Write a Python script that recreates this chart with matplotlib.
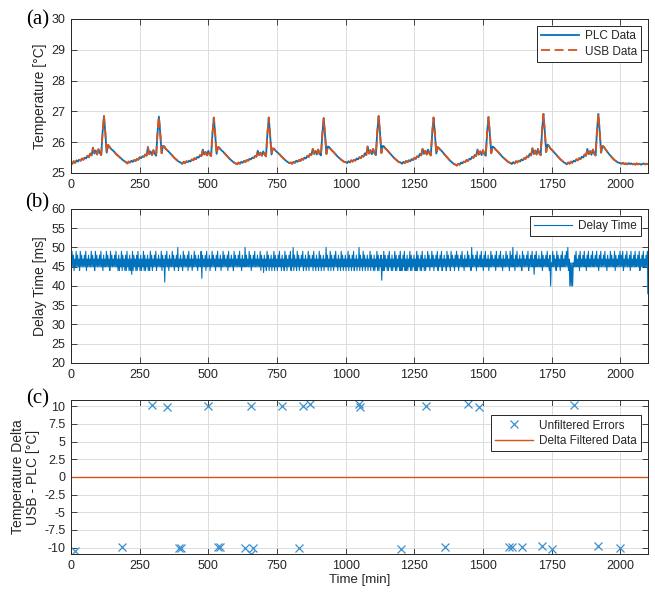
import numpy as np
import matplotlib
matplotlib.use("Agg")
import matplotlib.pyplot as plt

plt.rcParams['font.family'] = ['Liberation Sans', 'DejaVu Sans']
plt.rcParams['axes.unicode_minus'] = False
plt.rcParams['path.simplify'] = False

# ---------------- data ----------------
# PLC temperature, sampled every 5 min from 0 to 2100 min
plc_temp = [
    25.36, 25.30, 25.38, 25.33, 25.41, 25.37, 25.43, 25.40, 25.47, 25.43, 25.50, 25.47, 25.56, 25.51, 25.63, 25.57, 25.82, 25.63, 25.73, 25.60,
    25.77, 25.65, 25.58, 26.32, 26.85, 26.30, 25.66, 25.91, 25.85, 25.79, 25.75, 25.71, 25.66, 25.61, 25.57, 25.53, 25.49, 25.45, 25.41, 25.38,
    25.35, 25.31, 25.37, 25.34, 25.40, 25.36, 25.42, 25.39, 25.45, 25.43, 25.51, 25.48, 25.54, 25.52, 25.60, 25.56, 25.84, 25.61, 25.70, 25.58,
    25.74, 25.62, 25.56, 26.30, 26.83, 26.28, 25.64, 25.88, 25.86, 25.78, 25.74, 25.70, 25.65, 25.60, 25.55, 25.50, 25.46, 25.42, 25.38, 25.36,
    25.33, 25.30, 25.36, 25.32, 25.38, 25.35, 25.40, 25.37, 25.44, 25.41, 25.48, 25.45, 25.52, 25.50, 25.58, 25.55, 25.76, 25.60, 25.68, 25.57,
    25.72, 25.60, 25.55, 26.28, 26.80, 26.25, 25.62, 25.84, 25.82, 25.76, 25.72, 25.68, 25.63, 25.58, 25.53, 25.48, 25.44, 25.40, 25.36, 25.33,
    25.31, 25.28, 25.34, 25.30, 25.36, 25.33, 25.39, 25.36, 25.42, 25.40, 25.46, 25.44, 25.50, 25.48, 25.55, 25.53, 25.72, 25.58, 25.66, 25.56,
    25.70, 25.60, 25.54, 26.26, 26.80, 26.22, 25.60, 25.80, 25.78, 25.72, 25.68, 25.64, 25.60, 25.55, 25.50, 25.46, 25.42, 25.38, 25.35, 25.32,
    25.34, 25.30, 25.36, 25.33, 25.40, 25.36, 25.42, 25.39, 25.46, 25.43, 25.50, 25.47, 25.55, 25.52, 25.62, 25.58, 25.78, 25.62, 25.72, 25.60,
    25.76, 25.62, 25.57, 26.25, 26.78, 26.22, 25.62, 25.86, 25.84, 25.78, 25.73, 25.69, 25.64, 25.59, 25.54, 25.50, 25.46, 25.42, 25.39, 25.36,
    25.36, 25.32, 25.38, 25.34, 25.41, 25.37, 25.43, 25.40, 25.47, 25.44, 25.51, 25.48, 25.56, 25.53, 25.64, 25.58, 25.86, 25.63, 25.74, 25.61,
    25.78, 25.64, 25.58, 26.32, 26.85, 26.30, 25.65, 25.88, 25.86, 25.79, 25.75, 25.70, 25.65, 25.60, 25.55, 25.50, 25.46, 25.42, 25.38, 25.35,
    25.34, 25.30, 25.36, 25.32, 25.39, 25.35, 25.41, 25.38, 25.45, 25.42, 25.49, 25.46, 25.54, 25.51, 25.62, 25.57, 25.78, 25.62, 25.72, 25.60,
    25.76, 25.63, 25.57, 26.28, 26.80, 26.26, 25.63, 25.84, 25.80, 25.75, 25.71, 25.66, 25.60, 25.55, 25.50, 25.45, 25.40, 25.36, 25.32, 25.29,
    25.27, 25.24, 25.30, 25.27, 25.34, 25.31, 25.37, 25.35, 25.42, 25.39, 25.46, 25.44, 25.52, 25.49, 25.58, 25.55, 25.76, 25.60, 25.70, 25.58,
    25.74, 25.62, 25.56, 26.30, 26.82, 26.27, 25.64, 25.86, 25.83, 25.77, 25.73, 25.68, 25.63, 25.58, 25.53, 25.49, 25.45, 25.41, 25.37, 25.34,
    25.33, 25.29, 25.35, 25.31, 25.38, 25.34, 25.40, 25.37, 25.44, 25.41, 25.48, 25.46, 25.54, 25.51, 25.62, 25.57, 25.80, 25.62, 25.73, 25.60,
    25.78, 25.64, 25.58, 26.36, 26.92, 26.35, 25.68, 25.92, 25.88, 25.80, 25.76, 25.71, 25.66, 25.61, 25.56, 25.51, 25.46, 25.42, 25.38, 25.34,
    25.32, 25.28, 25.34, 25.30, 25.37, 25.33, 25.40, 25.37, 25.44, 25.41, 25.48, 25.45, 25.53, 25.50, 25.60, 25.56, 25.78, 25.61, 25.71, 25.59,
    25.76, 25.63, 25.57, 26.36, 26.92, 26.34, 25.66, 25.88, 25.85, 25.78, 25.72, 25.66, 25.60, 25.55, 25.50, 25.45, 25.41, 25.38, 25.35, 25.33,
    25.32, 25.30, 25.33, 25.29, 25.31, 25.28, 25.32, 25.29, 25.31, 25.28, 25.30, 25.27, 25.31, 25.28, 25.30, 25.27, 25.29, 25.31, 25.28, 25.30,
    25.29,
]
# USB logger reading (coincides with PLC after filtering)
usb_temp = list(plc_temp)

# Delay time [ms]: highest and lowest reading in each 5-min bin (0 ... 2095 min)
delay_high = [
    49, 48, 47, 49, 48, 47, 49, 48, 47, 48, 49, 47, 48, 47, 49, 48, 47, 49, 48, 47,
    48, 49, 47, 48, 47, 49, 48, 47, 49, 48, 47, 48, 49, 47, 48, 47, 49, 48, 47, 48,
    49, 47, 48, 47, 49, 48, 47, 48, 49, 47, 48, 47, 49, 48, 47, 48, 47, 49, 48, 47,
    48, 49, 47, 48, 47, 49, 48, 47, 48, 49, 47, 48, 47, 49, 48, 47, 48, 50, 47, 48,
    47, 49, 48, 47, 48, 49, 47, 48, 47, 49, 48, 47, 48, 47, 49, 48, 47, 48, 49, 47,
    48, 47, 49, 48, 47, 48, 49, 47, 48, 47, 49, 48, 47, 48, 49, 47, 48, 47, 49, 48,
    47, 48, 49, 47, 48, 47, 50, 48, 47, 49, 48, 47, 48, 49, 47, 48, 47, 49, 48, 47,
    48, 47, 49, 48, 47, 48, 47, 49, 48, 47, 48, 49, 47, 48, 47, 49, 48, 47, 48, 49,
    47, 50, 48, 47, 49, 48, 47, 48, 49, 47, 48, 47, 49, 48, 47, 48, 49, 47, 48, 47,
    49, 48, 47, 48, 47, 50, 48, 47, 49, 48, 47, 48, 49, 47, 48, 47, 49, 48, 47, 48,
    47, 49, 48, 47, 48, 49, 47, 48, 47, 50, 48, 47, 49, 48, 47, 48, 47, 49, 48, 47,
    48, 47, 49, 48, 47, 48, 47, 49, 48, 47, 48, 49, 47, 48, 47, 49, 48, 47, 48, 49,
    47, 48, 49, 47, 48, 47, 49, 48, 47, 48, 47, 49, 48, 47, 48, 49, 47, 48, 47, 49,
    48, 47, 49, 48, 47, 48, 49, 47, 48, 49, 47, 48, 47, 49, 48, 47, 49, 48, 47, 48,
    49, 48, 47, 48, 49, 47, 48, 47, 49, 48, 47, 50, 48, 47, 48, 49, 47, 48, 49, 47,
    48, 49, 47, 48, 47, 49, 48, 47, 48, 49, 47, 48, 49, 47, 48, 47, 49, 48, 47, 49,
    48, 50, 47, 48, 49, 47, 48, 47, 49, 48, 47, 48, 49, 47, 48, 49, 47, 48, 49, 47,
    48, 47, 49, 48, 47, 48, 49, 47, 48, 46, 49, 48, 47, 49, 48, 47, 48, 49, 47, 48,
    49, 50, 47, 46, 46, 46, 48, 49, 47, 48, 49, 47, 48, 49, 47, 48, 49, 47, 48, 49,
    47, 48, 49, 47, 48, 49, 47, 48, 49, 47, 48, 47, 49, 48, 47, 49, 48, 47, 48, 49,
    48, 49, 47, 48, 49, 47, 48, 49, 47, 48, 49, 47, 48, 49, 47, 48, 49, 47, 48, 49,
]
delay_low = [
    45, 45, 44, 45, 45, 45, 44, 45, 45, 45, 45, 44, 45, 45, 45, 45, 45, 44, 45, 45,
    45, 45, 45, 44, 45, 45, 45, 45, 44, 45, 45, 45, 45, 45, 44, 44, 45, 44, 45, 44,
    44, 45, 44, 44, 43, 44, 45, 44, 44, 45, 44, 44, 45, 44, 44, 45, 44, 44, 45, 44,
    45, 45, 44, 45, 45, 45, 44, 45, 41, 45, 45, 44, 45, 45, 45, 44, 45, 45, 44, 45,
    45, 44, 45, 45, 45, 44, 45, 45, 44, 45, 45, 45, 44, 45, 45, 42, 45, 45, 44, 45,
    45, 44, 45, 45, 45, 44, 45, 45, 45, 44, 45, 45, 45, 45, 44, 45, 45, 45, 44, 45,
    45, 45, 45, 45, 44, 45, 45, 45, 45, 45, 45, 44, 45, 45, 45, 45, 45, 45, 44, 45,
    43.5, 45, 44, 45, 44, 45, 44, 45, 44, 45, 44, 45, 45, 44, 45, 44, 45, 44, 45, 45,
    44, 45, 44, 45, 44, 45, 44, 45, 45, 44, 45, 44, 45, 44, 45, 45, 44, 45, 44, 45,
    44, 45, 44, 45, 44, 45, 45, 44, 45, 44, 45, 44, 45, 45, 44, 45, 44, 45, 44, 45,
    44, 45, 44, 45, 44, 45, 44, 45, 44, 45, 44, 45, 44, 45, 44, 45, 44, 45, 44, 45,
    44, 44, 45, 44, 44, 45, 41.5, 44, 44, 45, 44, 44, 45, 44, 44, 45, 44, 44, 45, 44,
    44, 44, 45, 44, 44, 44, 45, 44, 44, 45, 44, 44, 44, 45, 44, 44, 45, 44, 44, 45,
    45, 44, 45, 45, 44, 45, 45, 44, 45, 45, 44, 45, 45, 44, 45, 45, 44, 45, 45, 44,
    45, 45, 44, 45, 45, 45, 44, 45, 45, 45, 45, 44, 45, 45, 45, 44, 45, 45, 45, 45,
    44, 45, 45, 45, 44, 45, 45, 45, 45, 44, 45, 45, 45, 45, 44, 45, 45, 45, 45, 44,
    45, 45, 45, 44, 45, 45, 45, 45, 44, 45, 45, 45, 45, 44, 45, 45, 45, 43, 45, 45,
    45, 45, 45, 44, 45, 45, 45, 45, 44, 40, 45, 45, 45, 44, 45, 45, 44, 45, 45, 45,
    45, 45, 44, 40, 40, 40, 45, 45, 45, 45, 44, 45, 45, 45, 45, 44, 45, 45, 45, 45,
    45, 45, 45, 45, 44, 45, 45, 45, 45, 45, 44, 45, 45, 45, 45, 45, 44, 45, 45, 45,
    45, 45, 44, 45, 45, 45, 45, 44, 45, 45, 45, 45, 45, 45, 44, 45, 45, 45, 45, 45,
]
delay_start_ms = 20   # first reading at t = 0
delay_end_ms = 38     # last reading at t = 2100

# Unfiltered error events (time [min], USB - PLC delta [°C])
err_time = [296, 351, 498, 655, 770, 846, 871, 1048, 1054, 1291, 1447, 1487, 1833,
            15, 187, 392, 400, 536, 544, 635, 655, 664, 830, 1201, 1360, 1593, 1605,
            1643, 1714, 1752, 1919, 1998]
err_delta = [10.15, 9.95, 10.05, 10.05, 10.05, 10.05, 10.37, 10.33, 9.95, 10.05, 10.33, 9.86, 10.2,
             -10.47, -9.86, -10.0, -10.0, -9.86, -9.86, -10.0, -10.95, -10.0, -10.0, -10.23, -9.86,
             -9.86, -9.86, -9.86, -9.72, -10.14, -9.72, -10.0]

# Filtered delta (zero everywhere)
filt_time = [0, 2100]
filt_delta = [0.0, 0.0]

x_ticks = [0, 250, 500, 750, 1000, 1250, 1500, 1750, 2000]
temp_ticks = [25, 26, 27, 28, 29, 30]
delay_ticks = [20, 25, 30, 35, 40, 45, 50, 55, 60]
delta_ticks = [-10, -7.5, -5, -2.5, 0, 2.5, 5, 7.5, 10]
delta_labels = ['-10', '-7.5', '-5', '-2.5', '0', '2.5', '5', '7.5', '10']

# ---------------- style ----------------
BLUE = '#0072BD'
ORANGE = '#D95319'
TXT = '#262626'

fig = plt.figure(figsize=(6.55, 5.93), dpi=100)
L, W, H = 0.1084, 0.8806, 0.2597
ax_a = fig.add_axes([L, 0.7083, W, H])
ax_b = fig.add_axes([L, 0.3879, W, H])
ax_c = fig.add_axes([L, 0.0658, W, H])


def style(ax):
    ax.set_xlim(0, 2100)
    ax.set_xticks(x_ticks)
    ax.grid(True, color='#dcdcdc', linewidth=0.7)
    ax.set_axisbelow(True)
    ax.tick_params(direction='in', length=4, width=0.6, top=True, right=True,
                   labelsize=9, colors=TXT, labelcolor=TXT, pad=4)
    for s in ax.spines.values():
        s.set_color(TXT)
        s.set_linewidth(0.7)


t_temp = np.linspace(0, 2100, len(plc_temp))

# delay series: low/high of each bin placed at the bin's two halves
n_bins = len(delay_high)
bin_w = 2100 / n_bins
t_lo = np.arange(n_bins) * bin_w + 0.25 * bin_w
t_hi = np.arange(n_bins) * bin_w + 0.75 * bin_w
t_delay = np.concatenate([[0.0], np.column_stack([t_lo, t_hi]).ravel(), [2100.0]])
v_delay = np.concatenate([[delay_start_ms],
                          np.column_stack([delay_low, delay_high]).ravel(),
                          [delay_end_ms]])

# (a)
ax_a.plot(t_temp, plc_temp, color=BLUE, lw=1.3, label='PLC Data')
ax_a.plot(t_temp, usb_temp, color=ORANGE, lw=1.3, ls=(0, (5, 2.5)), label='USB Data')
ax_a.set_ylim(25, 30)
ax_a.set_yticks(temp_ticks)
ax_a.set_ylabel('Temperature [°C]', fontsize=10, color=TXT, labelpad=3)
style(ax_a)

# (b)
ax_b.plot(t_delay, v_delay, color=BLUE, lw=0.8, label='Delay Time')
ax_b.set_ylim(20, 60)
ax_b.set_yticks(delay_ticks)
ax_b.set_ylabel('Delay Time [ms]', fontsize=10, color=TXT, labelpad=3)
style(ax_b)

# (c)
ax_c.plot(err_time, err_delta, ls='none', marker='x', ms=6, mew=0.9, color='#3a8fd0',
          label='Unfiltered Errors')
ax_c.plot(filt_time, filt_delta, color=ORANGE, lw=1.0, label='Delta Filtered Data')
ax_c.set_ylim(-10.9, 10.9)
ax_c.set_yticks(delta_ticks)
ax_c.set_yticklabels(delta_labels)
ax_c.set_ylabel('Temperature Delta\nUSB - PLC [°C]', fontsize=10, color=TXT,
                labelpad=3, linespacing=1.1)
ax_c.set_xlabel('Time [min]', fontsize=9.5, color=TXT, labelpad=2)
style(ax_c)

for ax, anchor in ((ax_a, (0.988, 0.955)), (ax_b, (0.988, 0.955)), (ax_c, (0.988, 0.90))):
    leg = ax.legend(loc='upper right', bbox_to_anchor=anchor, fontsize=8.5,
                    frameon=True, fancybox=False, framealpha=1, edgecolor=TXT,
                    handlelength=3.2, borderpad=0.35, labelspacing=0.3,
                    handletextpad=0.5, borderaxespad=0)
    leg.get_frame().set_linewidth(0.7)
    for txt in leg.get_texts():
        txt.set_color(TXT)

for lab, y in (('(a)', 0.966), ('(b)', 0.658), ('(c)', 0.328)):
    fig.text(0.057, y, lab, family='Liberation Serif', fontsize=15, ha='center',
             va='center', color='black')

fig.savefig('out.png', dpi=100)
